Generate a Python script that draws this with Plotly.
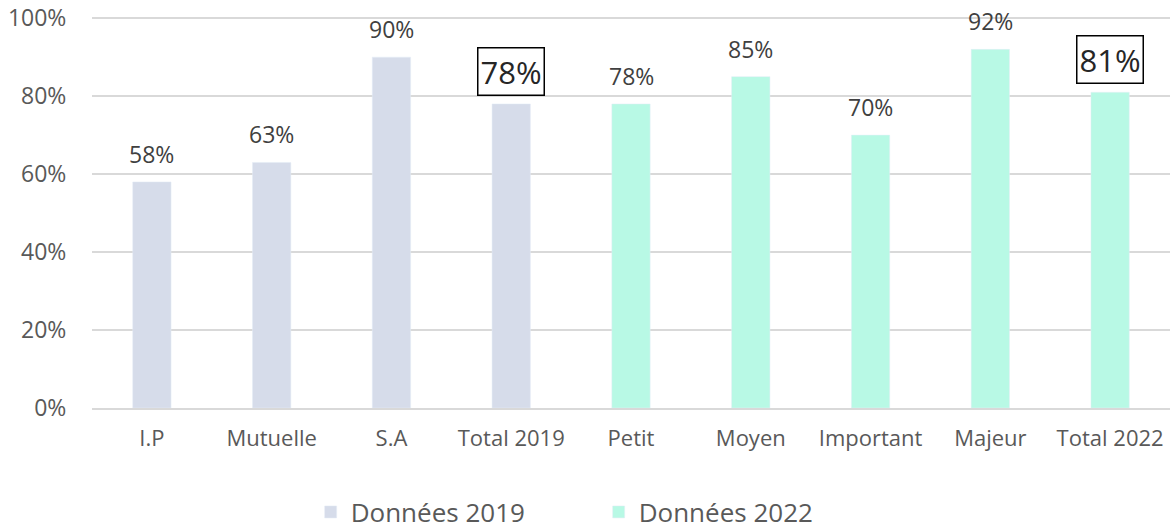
import plotly.graph_objects as go

categories = ["I.P", "Mutuelle", "S.A", "Total 2019", "Petit", "Moyen", "Important", "Majeur", "Total 2022"]
cat_2019 = ["I.P", "Mutuelle", "S.A", "Total 2019"]
val_2019 = [58, 63, 90, 78]
cat_2022 = ["Petit", "Moyen", "Important", "Majeur", "Total 2022"]
val_2022 = [78, 85, 70, 92, 81]
totals = ["Total 2019", "Total 2022"]
yticks = [0, 20, 40, 60, 80, 100]

FONT = "Open Sans"
c2019 = "#d6dcea"
c2022 = "#b8f9e5"

fig = go.Figure()
fig.add_trace(go.Bar(x=cat_2019, y=val_2019, name="Données 2019", marker_color=c2019,
                     width=0.32, hoverinfo="skip"))
fig.add_trace(go.Bar(x=cat_2022, y=val_2022, name="Données 2022", marker_color=c2022,
                     width=0.32, hoverinfo="skip"))

for cats, vals in [(cat_2019, val_2019), (cat_2022, val_2022)]:
    for c, v in zip(cats, vals):
        if c in totals:
            fig.add_annotation(x=c, y=v, text=f"{v}%", showarrow=False, yanchor="bottom",
                               yshift=8, font=dict(family=FONT, size=31, color="#262626"),
                               bordercolor="#000000", borderwidth=1.5, borderpad=2,
                               bgcolor="white")
        else:
            fig.add_annotation(x=c, y=v, text=f"{v}%", showarrow=False, yanchor="bottom",
                               yshift=10, font=dict(family=FONT, size=23, color="#404040"))

fig.update_layout(
    width=1170, height=529,
    margin=dict(l=92, r=0, t=17, b=121, autoexpand=False),
    paper_bgcolor="white", plot_bgcolor="white",
    barmode="overlay",
    showlegend=True,
    legend=dict(orientation="h", x=0.47, xanchor="center",
                y=-0.266, yanchor="middle",
                font=dict(family=FONT, size=26, color="#595959"), itemwidth=30,
                entrywidth=243, entrywidthmode="pixels",
                traceorder="normal"),
    font=dict(family=FONT, color="#595959"),
)
fig.update_xaxes(categoryorder="array", categoryarray=categories, automargin=False,
                 tickangle=0,
                 tickfont=dict(family=FONT, size=22, color="#595959"),
                 showline=True, linecolor="#d9d9d9", linewidth=1.5,
                 ticks="outside", ticklen=10, tickcolor="rgba(0,0,0,0)", showgrid=False)
fig.update_yaxes(range=[0, 100.3], tickvals=yticks, ticktext=[f"{t}%" for t in yticks],
                 automargin=False,
                 tickfont=dict(family=FONT, size=23, color="#595959"),
                 showgrid=True, gridcolor="#d9d9d9", gridwidth=1.5, zeroline=False,
                 ticks="outside", ticklen=20, tickcolor="rgba(0,0,0,0)", showline=False)

fig.write_html("out.html", config={"displayModeBar": False},
               post_script="document.body.style.margin='0';document.body.style.padding='0';")
